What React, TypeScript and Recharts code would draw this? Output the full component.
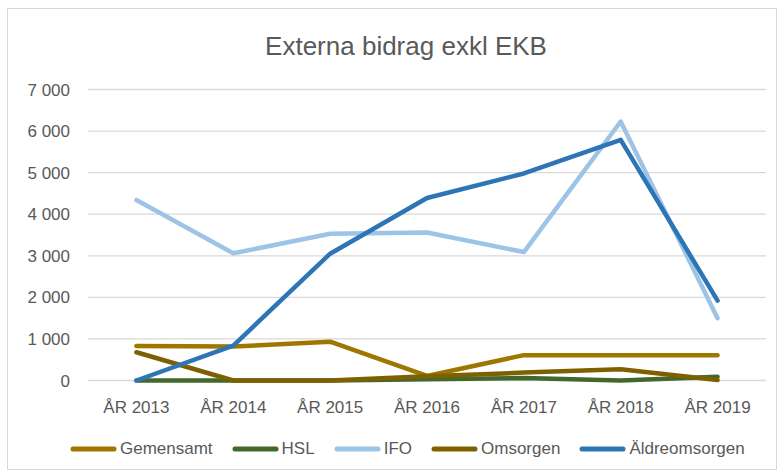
import React from "react";
import { LineChart, Line, XAxis, YAxis, CartesianGrid, Legend } from "recharts";

const categories = ["ÅR 2013", "ÅR 2014", "ÅR 2015", "ÅR 2016", "ÅR 2017", "ÅR 2018", "ÅR 2019"];
const gemensamt = [830, 815, 935, 110, 610, 610, 610];
const hsl = [0, 0, 0, 30, 60, 0, 90];
const ifo = [4340, 3060, 3530, 3560, 3090, 6230, 1500];
const omsorgen = [680, 0, 0, 100, 190, 270, 10];
const aldreomsorgen = [0, 840, 3050, 4390, 4980, 5790, 1920];
const yTicks = [0, 1000, 2000, 3000, 4000, 5000, 6000, 7000];

const seriesInfo = [
  { key: "Gemensamt", color: "#9E7700" },
  { key: "HSL", color: "#43682B" },
  { key: "IFO", color: "#9DC3E6" },
  { key: "Omsorgen", color: "#7F6000" },
  { key: "Äldreomsorgen", color: "#2E75B6" },
];

const data = categories.map((c, i) => ({
  name: c,
  Gemensamt: gemensamt[i],
  HSL: hsl[i],
  IFO: ifo[i],
  Omsorgen: omsorgen[i],
  "Äldreomsorgen": aldreomsorgen[i],
}));

const FONT = "'Liberation Sans', Arial, sans-serif";
const TEXT = "#595959";

const fmt = (v: number) => {
  const s = String(Math.round(v));
  return s.replace(/\B(?=(\d{3})+(?!\d))/g, " ");
};

const renderLegend = () => (
  <div style={{ display: "flex", alignItems: "center", fontFamily: FONT, fontSize: 17, color: TEXT, paddingLeft: 62 }}>
    {seriesInfo.map((s) => (
      <div key={s.key} style={{ display: "flex", alignItems: "center", marginRight: 19 }}>
        <svg width={47} height={8} style={{ marginRight: 3 }}>
          <line x1={3} y1={4} x2={44} y2={4} stroke={s.color} strokeWidth={5} strokeLinecap="round" />
        </svg>
        <span>{s.key}</span>
      </div>
    ))}
  </div>
);

export default function App() {
  return (
    <div style={{ position: "absolute", left: 0, top: 0, width: 779, height: 474, background: "#fff" }}>
      <div
        style={{
          position: "absolute",
          left: 7,
          top: 8,
          width: 770,
          height: 462,
          border: "1px solid #d9d9d9",
          boxSizing: "border-box",
        }}
      >
        <div
          style={{
            position: "absolute",
            left: 0,
            width: 768,
            top: 22,
            textAlign: "center",
            fontFamily: FONT,
            fontSize: 26,
            color: TEXT,
            paddingLeft: 28,
            boxSizing: "border-box",
          }}
        >
          Externa bidrag exkl EKB
        </div>
        <LineChart
          width={768}
          height={460}
          data={data}
          margin={{ top: 80.5, right: 10, bottom: 58.5, left: 20 }}
        >
          <CartesianGrid vertical={false} stroke="#d9d9d9" strokeWidth={1.3} />
          <XAxis
            dataKey="name"
            scale="band"
            axisLine={false}
            tickLine={false}
            tickSize={0}
            tickMargin={20}
            interval={0}
            tick={{ fontFamily: FONT, fontSize: 17, fill: TEXT }}
          />
          <YAxis
            width={60}
            domain={[0, 7000]}
            ticks={yTicks}
            axisLine={false}
            tickLine={false}
            tickSize={0}
            tickMargin={18}
            tickFormatter={fmt}
            tick={{ fontFamily: FONT, fontSize: 17, fill: TEXT }}
          />
          <Legend
            verticalAlign="middle"
            align="center"
            content={renderLegend}
            wrapperStyle={{ top: 430, left: 0, width: 768, height: 20 }}
          />
          {seriesInfo.map((s) => (
            <Line
              key={s.key}
              type="linear"
              dataKey={s.key}
              stroke={s.color}
              strokeWidth={4.5}
              strokeLinecap="round"
              strokeLinejoin="round"
              dot={false}
              activeDot={false}
              isAnimationActive={false}
            />
          ))}
        </LineChart>
      </div>
    </div>
  );
}
